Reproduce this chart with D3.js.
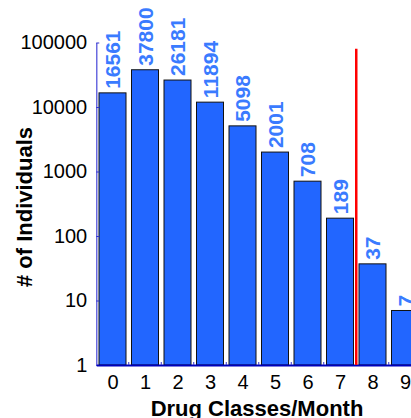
<!DOCTYPE html>
<html><head><meta charset="utf-8">
<script src="https://cdn.jsdelivr.net/npm/d3@7"></script>
<style>body{margin:0;background:#fff}svg{display:block}text{font-family:"Liberation Sans",Arial,sans-serif}</style>
</head><body><svg id="c" width="411" height="418"></svg>
<script>
const categories = [0,1,2,3,4,5,6,7,8,9];
const counts = [16561,37800,26181,11894,5098,2001,708,189,37,7];
const yTicks = [1,10,100,1000,10000,100000];
const cutoff = 7.5;
const cutoffTop = 80000;

const svg = d3.select("#c");
const x = d3.scaleLinear().domain([-0.5, 9.5]).range([96.25, 421.25]);
const y = d3.scaleLog().domain([1, 100000]).range([365, 42.5]);
const barW = 27;

svg.append("g").selectAll("rect").data(categories).join("rect")
  .attr("x", d => x(d) - barW/2)
  .attr("y", (d,i) => y(counts[i]))
  .attr("width", barW)
  .attr("height", (d,i) => y(1) - y(counts[i]))
  .attr("fill", "#2266ff").attr("stroke", "#111").attr("stroke-width", 1);

svg.append("g").selectAll("text").data(categories).join("text")
  .attr("transform", (d,i) => `translate(${x(d)+7.5},${y(counts[i]) - 4}) rotate(-90)`)
  .attr("fill", "#3a7bff").attr("font-weight", "bold").attr("font-size", 21)
  .text((d,i) => counts[i]);

// y axis
const ya = svg.append("g").attr("transform", `translate(${x(-0.5)},0)`)
  .call(d3.axisRight(y).tickValues(yTicks).tickFormat(d3.format("d")).tickSizeInner(3).tickSizeOuter(0));
ya.select(".domain").attr("stroke", "#6a6ae0").attr("stroke-width", 1.5);
ya.selectAll(".tick line").attr("stroke", "#3333cc");
ya.selectAll(".tick text").attr("x", -9).attr("text-anchor", "end").attr("font-size", 20).attr("fill", "#000");

// x axis
const xa = svg.append("g").attr("transform", `translate(0,${y(1)})`)
  .call(d3.axisBottom(x).tickValues(categories).tickFormat(d3.format("d")).tickSize(0).tickPadding(9));
xa.select(".domain").attr("stroke", "#0000bb").attr("stroke-width", 2);
xa.selectAll(".tick text").attr("font-size", 20).attr("fill", "#000").attr("dy", "0.75em");
svg.append("g").selectAll("line").data(categories.slice(0, 9)).join("line")
  .attr("x1", d => x(d + 0.5)).attr("x2", d => x(d + 0.5))
  .attr("y1", y(1)).attr("y2", y(1) - 3)
  .attr("stroke", "#3333cc").attr("stroke-width", 1);

// cutoff line
svg.append("line").attr("x1", x(cutoff)).attr("x2", x(cutoff))
  .attr("y1", y(cutoffTop)).attr("y2", y(1))
  .attr("stroke", "#ff0000").attr("stroke-width", 2.5);

svg.append("text").attr("x", 257).attr("y", 416).attr("text-anchor", "middle")
  .attr("font-weight", "bold").attr("font-size", 22).text("Drug Classes/Month");
svg.append("text").attr("transform", "translate(32,207) rotate(-90)").attr("text-anchor", "middle")
  .attr("font-weight", "bold").attr("font-size", 22).text("# of Individuals");
</script></body></html>
